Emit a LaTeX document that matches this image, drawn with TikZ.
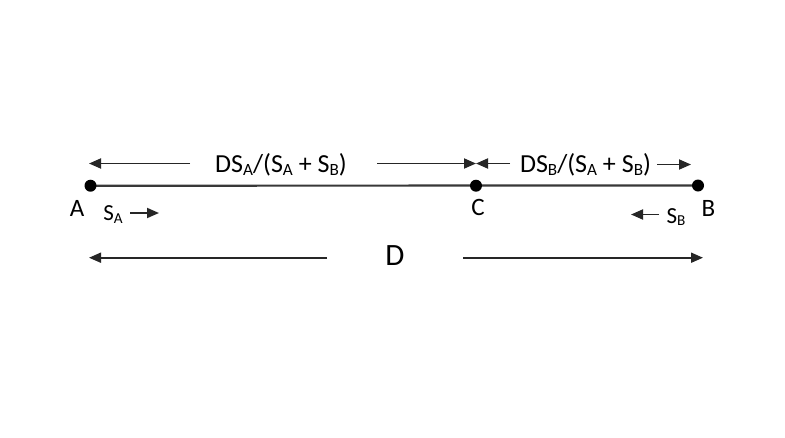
\documentclass[tikz,border=0pt]{standalone}
\usepackage{fontspec}
\setmainfont{Carlito}
\usetikzlibrary{arrows.meta}
\newcommand\sbs[1]{\raisebox{-0.13em}{\scalebox{0.66}{#1}}}
\begin{document}
\begin{tikzpicture}[x=1pt,y=-1pt,
  dot/.style={circle,fill=black,inner sep=0pt,minimum size=12pt},
  mainline/.style={line width=2.2pt,draw=black!78},
  dimarrow/.style={line width=1.8pt,draw=black!85,-{Triangle[length=12pt,width=10pt]}},
  lbl/.style={inner sep=0pt,anchor=base,font=\fontsize{26}{30}\selectfont},
  plbl/.style={inner sep=0pt,anchor=base,font=\fontsize{25}{29}\selectfont},
  slbl/.style={inner sep=0pt,anchor=base,font=\fontsize{23}{27}\selectfont},
  biglbl/.style={inner sep=0pt,anchor=base,font=\fontsize{31}{35}\selectfont}]
\useasboundingbox[fill=white] (0,0) rectangle (785,437);
% points
\coordinate (Ap) at (90.5,185.7);
\coordinate (Cp) at (476,185.7);
\coordinate (Bp) at (698,185.5);
\draw[mainline] (Ap) -- (Bp);
\node[dot] (A) at (Ap) {};
\node[dot] (C) at (Cp) {};
\node[dot] (B) at (Bp) {};
% point labels
\node[plbl] (la) at (77,216) {A};
\node[plbl] (lc) at (478,215) {C};
\node[plbl] (lb) at (708.5,216) {B};
% speeds
\node[slbl] (sa) at (113,220.5) {S\sbs{A}};
\coordinate (saS) at (130,213);
\coordinate (saE) at (159,213);
\draw[dimarrow] (saS) -- (saE);
\node[slbl] (sb) at (676,223) {S\sbs{B}};
\coordinate (sbS) at (659,214.5);
\coordinate (sbE) at (631,214.5);
\draw[dimarrow] (sbS) -- (sbE);
% top dimension AC
\node[lbl] (dac) at (281,172.5) {DS\sbs{A}/(S\sbs{A} + S\sbs{B})};
\coordinate (acL) at (89,163.5);
\coordinate (acL0) at (190,163.5);
\coordinate (acR0) at (377,163.5);
\coordinate (acR) at (476,163.5);
\draw[dimarrow] (acL0) -- (acL);
\draw[dimarrow] (acR0) -- (acR);
% top dimension CB
\node[lbl] (dcb) at (585.5,172.5) {DS\sbs{B}/(S\sbs{A} + S\sbs{B})};
\coordinate (cbL0) at (510,163.5);
\coordinate (cbL) at (476,163.5);
\coordinate (cbR0) at (657,164.5);
\coordinate (cbR) at (691,164.5);
\draw[dimarrow] (cbL0) -- (cbL);
\draw[dimarrow] (cbR0) -- (cbR);
% bottom dimension D
\node[biglbl] (dd) at (395,265) {D};
\coordinate (dL0) at (327,257.7);
\coordinate (dL) at (89,257.7);
\coordinate (dR0) at (463,257.7);
\coordinate (dR) at (703,257.7);
\draw[dimarrow] (dL0) -- (dL);
\draw[dimarrow] (dR0) -- (dR);
\end{tikzpicture}
\end{document}
